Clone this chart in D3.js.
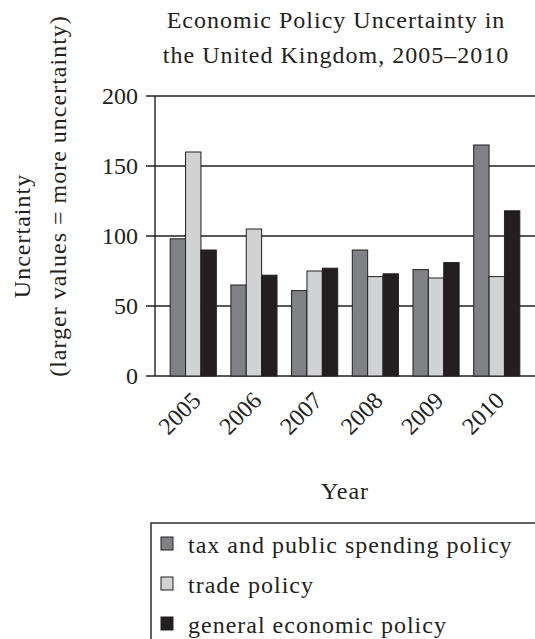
<!DOCTYPE html>
<html lang="en">
<head>
<meta charset="UTF-8">
<title>Economic Policy Uncertainty in the United Kingdom</title>
<script src="https://cdn.jsdelivr.net/npm/d3@7"></script>
<style>
  body { margin: 0; background: #fff; }
  text { font-family: "Liberation Serif", "DejaVu Serif", serif; fill: #231f20; }
  .label { font-size: 24px; letter-spacing: 1px; }
</style>
</head>
<body>
<svg id="chart" width="535" height="639"></svg>
<script>
// data
var years = ["2005", "2006", "2007", "2008", "2009", "2010"];
var seriesNames = ["tax and public spending policy", "trade policy", "general economic policy"];
var taxValues = [98, 65, 61, 90, 76, 165];
var tradeValues = [160, 105, 75, 71, 70, 71];
var generalValues = [90, 72, 77, 73, 81, 118];
var yTicks = [0, 50, 100, 150, 200];
var colors = ["#808185", "#d1d2d4", "#231f20"];

var allSeries = [taxValues, tradeValues, generalValues];

var svg = d3.select("#chart");

var x0 = d3.scaleBand().domain(years).range([155, 535]).paddingInner(0.24).paddingOuter(0.25);
var x1 = d3.scaleBand().domain(d3.range(3)).range([0, x0.bandwidth()]);
var y = d3.scaleLinear().domain([0, 200]).range([376, 96]);

// gridlines
svg.append("g")
  .selectAll("line")
  .data(yTicks)
  .enter()
  .append("line")
  .attr("x1", 146)
  .attr("x2", 535)
  .attr("y1", function(d){ return y(d); })
  .attr("y2", function(d){ return y(d); })
  .attr("stroke", "#231f20")
  .attr("stroke-width", 1.4);

// y axis line
svg.append("line")
  .attr("x1", 155).attr("x2", 155)
  .attr("y1", y(200)).attr("y2", y(0))
  .attr("stroke", "#231f20")
  .attr("stroke-width", 1.4);

// tick labels
svg.append("g")
  .selectAll("text")
  .data(yTicks)
  .enter()
  .append("text")
  .attr("x", 138)
  .attr("y", function(d){ return y(d) + 8; })
  .attr("text-anchor", "end")
  .attr("font-size", 24)
  .text(function(d){ return d; });

// bars
var groups = svg.append("g")
  .selectAll("g")
  .data(years)
  .enter()
  .append("g")
  .attr("transform", function(d){ return "translate(" + x0(d) + ",0)"; });

groups.selectAll("rect")
  .data(function(d, i){ return allSeries.map(function(s, k){ return {k: k, v: s[i]}; }); })
  .enter()
  .append("rect")
  .attr("x", function(d){ return x1(d.k); })
  .attr("width", x1.bandwidth())
  .attr("y", function(d){ return y(d.v); })
  .attr("height", function(d){ return y(0) - y(d.v); })
  .attr("fill", function(d){ return colors[d.k]; })
  .attr("stroke", "#231f20")
  .attr("stroke-width", 1);

// x labels, rotated
svg.append("g")
  .selectAll("text")
  .data(years)
  .enter()
  .append("text")
  .attr("transform", function(d){
    return "translate(" + (x0(d) + x0.bandwidth() / 2 + 9) + ",402) rotate(-45)";
  })
  .attr("text-anchor", "end")
  .attr("font-size", 24)
  .text(function(d){ return d; });

// title
svg.append("text")
  .attr("class", "label")
  .attr("x", 336).attr("y", 28)
  .attr("text-anchor", "middle")
  .text("Economic Policy Uncertainty in");
svg.append("text")
  .attr("class", "label")
  .attr("x", 336).attr("y", 63)
  .attr("text-anchor", "middle")
  .text("the United Kingdom, 2005\u20132010");

// axis titles
svg.append("text")
  .attr("class", "label")
  .attr("transform", "translate(30,236) rotate(-90)")
  .attr("text-anchor", "middle")
  .text("Uncertainty");
svg.append("text")
  .attr("class", "label")
  .attr("transform", "translate(66,196) rotate(-90)")
  .attr("text-anchor", "middle")
  .text("(larger values = more uncertainty)");
svg.append("text")
  .attr("class", "label")
  .attr("x", 345).attr("y", 499)
  .attr("text-anchor", "middle")
  .text("Year");

// legend
svg.append("rect")
  .attr("x", 151).attr("y", 523)
  .attr("width", 400).attr("height", 130)
  .attr("fill", "none")
  .attr("stroke", "#231f20")
  .attr("stroke-width", 1.4);

var legend = svg.append("g")
  .selectAll("g")
  .data(seriesNames)
  .enter()
  .append("g")
  .attr("transform", function(d, i){ return "translate(161," + (537 + i * 40) + ")"; });

legend.append("rect")
  .attr("width", 12).attr("height", 13)
  .attr("fill", function(d, i){ return colors[i]; })
  .attr("stroke", "#231f20")
  .attr("stroke-width", 1);

legend.append("text")
  .attr("class", "label")
  .attr("x", 27).attr("y", 16)
  .text(function(d){ return d; });
</script>
</body>
</html>
